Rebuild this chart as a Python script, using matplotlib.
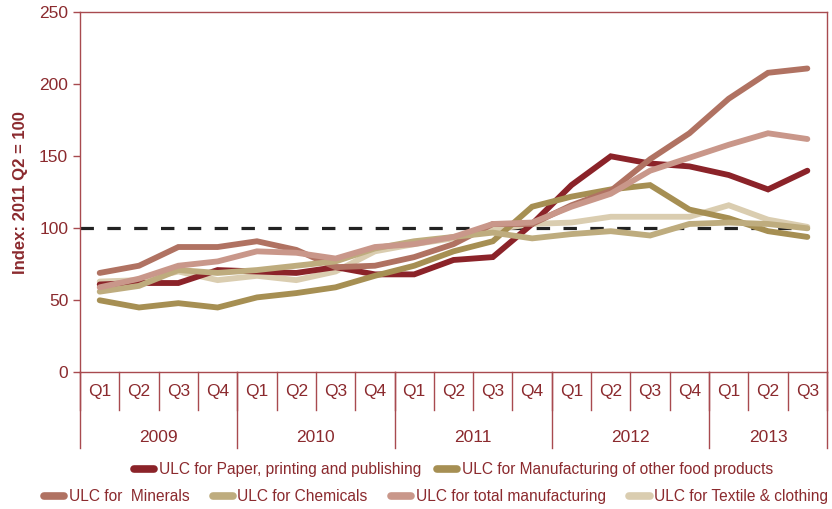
import matplotlib.pyplot as plt
from matplotlib.lines import Line2D

plt.rcParams['font.family'] = ['Liberation Sans Narrow', 'Liberation Sans', 'DejaVu Sans']

quarters = ['Q1', 'Q2', 'Q3', 'Q4'] * 4 + ['Q1', 'Q2', 'Q3']
years = ['2009', '2010', '2011', '2012', '2013']
year_len = [4, 4, 4, 4, 3]

paper = [61, 62, 62, 71, 70, 69, 73, 68, 68, 78, 80, 103, 130, 150, 145, 143, 137, 127, 140]
food = [50, 45, 48, 45, 52, 55, 59, 67, 74, 84, 91, 115, 122, 127, 130, 113, 107, 98, 94]
minerals = [69, 74, 87, 87, 91, 85, 73, 74, 80, 89, 103, 103, 116, 126, 148, 166, 190, 208, 211]
chemicals = [56, 60, 71, 69, 71, 74, 77, 86, 91, 94, 97, 93, 96, 98, 95, 103, 104, 103, 100]
total = [59, 65, 74, 77, 84, 83, 79, 87, 89, 94, 103, 104, 115, 124, 140, 149, 158, 166, 162]
textile = [63, 64, 70, 64, 67, 64, 70, 84, 89, 93, 99, 103, 104, 108, 108, 108, 116, 106, 101]
baseline = 100

names = ['ULC for Paper, printing and publishing',
         'ULC for Manufacturing of other food products',
         'ULC for  Minerals',
         'ULC for Chemicals',
         'ULC for total manufacturing',
         'ULC for Textile & clothing']
colors = ['#8B2329', '#A68F53', '#B07262', '#BEAC7E', '#C9978A', '#DACDB0']
series = [paper, food, minerals, chemicals, total, textile]
# textile is drawn underneath the other lines
order = [5, 0, 1, 2, 3, 4]

txt = '#8B2A2E'
edge = '#A84A4F'

fig = plt.figure(figsize=(8.32, 5.09), dpi=100)
ax = fig.add_axes([0.0962, 0.2686, 0.8978, 0.7072])

x = list(range(len(quarters)))
ax.plot([-0.5, 18.05], [baseline, baseline], color='#222222', lw=2.3,
        dashes=(4.2, 4.2), zorder=1)
for k in order:
    ax.plot(x, series[k], color=colors[k], lw=4.2, solid_capstyle='round',
            solid_joinstyle='miter', zorder=2)

ax.set_xlim(-0.5, len(quarters) - 0.5)
ax.set_ylim(0, 250)
ax.set_yticks(range(0, 251, 50))
ax.set_xticks([])
ax.tick_params(axis='y', colors=txt, labelsize=12.5, length=5, width=1, color=edge)
for sp in ax.spines.values():
    sp.set_color(edge)
    sp.set_linewidth(1)
ax.set_ylabel('Index: 2011 Q2 = 100', color=txt, fontsize=12, fontweight='bold',
              labelpad=8)

# category boxes under the plot: quarters row and years row
trans = ax.get_xaxis_transform()
q_bottom = -0.105
y_bottom = -0.21
for i in range(len(quarters) + 1):
    ax.plot([i - 0.5, i - 0.5], [0, q_bottom], transform=trans, color=edge,
            lw=1, clip_on=False)
for i, q in enumerate(quarters):
    ax.text(i, -0.052, q, transform=trans, ha='center', va='center',
            color=txt, fontsize=12.5)
start = 0
for yr, n in zip(years, year_len):
    ax.plot([start - 0.5, start - 0.5], [0, y_bottom], transform=trans, color=edge,
            lw=1, clip_on=False)
    ax.text(start - 0.5 + n / 2, -0.18, yr, transform=trans, ha='center', va='center',
            color=txt, fontsize=12.5)
    start += n
ax.plot([start - 0.5, start - 0.5], [0, y_bottom], transform=trans, color=edge,
        lw=1, clip_on=False)

handles = [Line2D([], [], color=c, lw=5.5, solid_capstyle='round') for c in colors]
leg1 = fig.legend(handles[:2], names[:2], ncol=2, loc='center',
                  bbox_to_anchor=(0.545, 0.077), frameon=False, fontsize=11.2,
                  handlelength=1.3, handletextpad=0.3, columnspacing=1.0)
leg2 = fig.legend(handles[2:], names[2:], ncol=4, loc='center',
                  bbox_to_anchor=(0.524, 0.024), frameon=False, fontsize=11.2,
                  handlelength=1.3, handletextpad=0.3, columnspacing=1.5)
for leg in (leg1, leg2):
    for t in leg.get_texts():
        t.set_color(txt)

fig.savefig('out.png', dpi=100)
